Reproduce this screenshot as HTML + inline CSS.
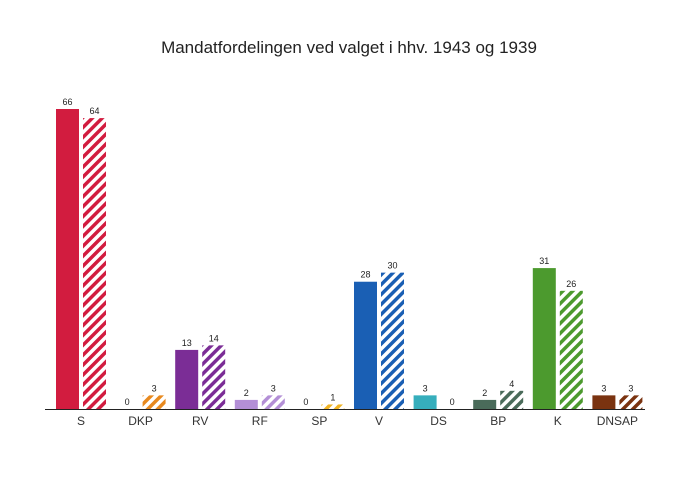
<!DOCTYPE html>
<html><head><meta charset="utf-8"><style>
body{margin:0;background:#fff;font-family:"Liberation Sans",sans-serif}
</style></head><body>
<svg id="c" width="680" height="476" xmlns="http://www.w3.org/2000/svg">
<text x="349" y="53" text-anchor="middle" font-size="17" fill="#222">Mandatfordelingen ved valget i hhv. 1943 og 1939</text>
<defs id="defs"></defs>
<g id="bars"></g>
<line x1="45" y1="409.5" x2="645" y2="409.5" stroke="#222" stroke-width="1"/>
</svg>
<script>
const categories=["S","DKP","RV","RF","SP","V","DS","BP","K","DNSAP"];
const seats1943=[66,0,13,2,0,28,3,2,31,3];
const seats1939=[64,3,14,3,1,30,0,4,26,3];
const colors=["#d21c3f","#e8891e","#7b2d96","#b38fd6","#f0b323","#1a5fb4","#36aebc","#4a6b5a","#4c9a2e","#7a3310"];
const NS="http://www.w3.org/2000/svg";
const svg=document.getElementById('c'),defs=document.getElementById('defs'),g=document.getElementById('bars');
const base=409,scale=300/66,x0=51,step=59.6,bw=23;
const y=v=>base-v*scale;
function mk(t,a){const e=document.createElementNS(NS,t);for(const k in a)e.setAttribute(k,a[k]);return e;}
categories.forEach((c,i)=>{
  const p=mk('pattern',{id:'h'+i,patternUnits:'userSpaceOnUse',width:7,height:7,patternTransform:'rotate(45)'});
  p.appendChild(mk('rect',{x:0,y:0,width:3.5,height:7,fill:colors[i]}));
  defs.appendChild(p);
  const xa=x0+i*step+5,xb=xa+bw+4;
  const r1=mk('rect',{x:xa,y:y(seats1943[i]),width:bw,height:seats1943[i]*scale,fill:colors[i]});
  
  
  g.appendChild(r1);
  const r2=mk('rect',{x:xb,y:y(seats1939[i]),width:bw,height:seats1939[i]*scale,fill:'url(#h'+i+')'});
  
  
  g.appendChild(r2);
  [[xa,seats1943[i]],[xb,seats1939[i]]].forEach(([x,v])=>{
    const t=mk('text',{x:x+bw/2,y:y(v)-4,'text-anchor':'middle','font-size':9,fill:'#222'});
    t.textContent=v;
    
    
    g.appendChild(t);
  });
  const l=mk('text',{x:xa+bw+2,y:425,'text-anchor':'middle','font-size':12,fill:'#333'});
  l.textContent=c;
  
  
  g.appendChild(l);
});
</script>
</body></html>
